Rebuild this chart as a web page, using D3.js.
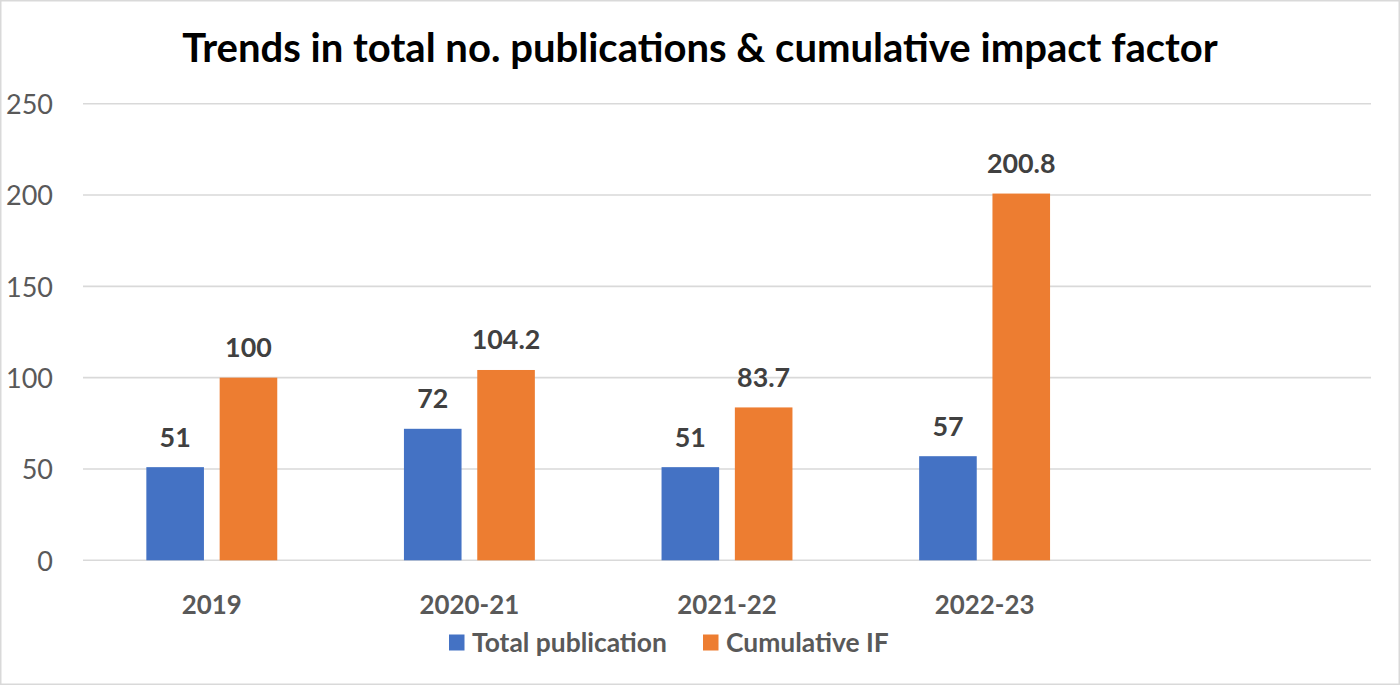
<!DOCTYPE html>
<html>
<head>
<meta charset="utf-8">
<script src="https://cdn.jsdelivr.net/npm/d3@7"></script>
<style>
  html, body { margin: 0; padding: 0; background: #fff; }
  svg { display: block; font-family: Lato, "Open Sans", sans-serif; }
</style>
</head>
<body>
<svg id="chart" width="1400" height="685"></svg>
<script>
// Publications per period and the cumulative impact factor
const categories = ["2019", "2020-21", "2021-22", "2022-23"];
const seriesNames = ["Total publication", "Cumulative IF"];
const totalPublication = [51, 72, 51, 57];
const cumulativeIF = [100, 104.2, 83.7, 200.8];
const yTicks = [0, 50, 100, 150, 200, 250];
const colors = ["#4472C4", "#ED7D31"];

const W = 1400, H = 685;
const plot = { left: 83, right: 1371, top: 103.7, bottom: 560.3 };

const svg = d3.select("#chart");

svg.append("rect")
  .attr("x", 0.75).attr("y", 0.75)
  .attr("width", W - 1.5).attr("height", H - 1.5)
  .attr("fill", "#fff").attr("stroke", "#d9d9d9").attr("stroke-width", 1.5);

// Category axis keeps one empty slot after the last period
const slots = [...categories, "\u00a0"];
const x = d3.scaleBand().domain(slots).range([plot.left, plot.right]).padding(0);
const band = x.bandwidth();
const barW = band * 0.2236;
const gap = band * 0.061;
const groupW = barW * 2 + gap;
const x1 = d3.scaleBand().domain(seriesNames)
  .range([(band - groupW) / 2, (band + groupW) / 2])
  .paddingInner(gap / (barW + gap)).paddingOuter(0);

const y = d3.scaleLinear().domain([0, 250]).range([plot.bottom, plot.top]);

// Gridlines
svg.append("g").selectAll("line").data(yTicks).join("line")
  .attr("x1", plot.left).attr("x2", plot.right)
  .attr("y1", d => y(d)).attr("y2", d => y(d))
  .attr("stroke", "#d9d9d9").attr("stroke-width", 1.6);

// Fit a text selection's font size so its first node spans the given width
function fit(sel, target) {
  const node = sel.node();
  const fs = parseFloat(sel.attr("font-size"));
  const w = node.getComputedTextLength();
  sel.attr("font-size", (fs * target / w).toFixed(2));
}

// Y axis labels
const yAxis = svg.append("g").attr("transform", "translate(53,0)")
  .call(d3.axisLeft(y).tickValues(yTicks).tickSize(0).tickPadding(0));
yAxis.select(".domain").remove();
const yLabels = yAxis.selectAll("text")
  .attr("font-family", "Lato, 'Open Sans', sans-serif")
  .attr("font-size", 28).attr("fill", "#595959").attr("dy", "0.36em");
fit(d3.select(yLabels.nodes()[yLabels.size() - 1]), 47);
yLabels.attr("font-size", d3.select(yLabels.nodes()[yLabels.size() - 1]).attr("font-size"));

// Bars
const rows = categories.map((c, i) => ({ cat: c, vals: [totalPublication[i], cumulativeIF[i]] }));
const groups = svg.append("g").selectAll("g").data(rows).join("g")
  .attr("transform", d => `translate(${x(d.cat)},0)`);
groups.selectAll("rect")
  .data(d => d.vals.map((v, j) => ({ key: seriesNames[j], v, j })))
  .join("rect")
  .attr("x", d => x1(d.key)).attr("width", x1.bandwidth())
  .attr("y", d => y(d.v)).attr("height", d => y(0) - y(d.v))
  .attr("fill", d => colors[d.j]);

// Value labels
const vlab = groups.selectAll("text")
  .data(d => d.vals.map((v, j) => ({ key: seriesNames[j], v, j })))
  .join("text")
  .attr("x", d => x1(d.key) + x1.bandwidth() / 2)
  .attr("y", d => y(d.v) - 20.5)
  .attr("text-anchor", "middle")
  .attr("font-weight", 700).attr("font-size", 28).attr("fill", "#404040")
  .text(d => String(d.v));
{
  const ref = vlab.filter(d => d.v === 100);
  fit(ref, 46.7);
  vlab.attr("font-size", ref.attr("font-size"));
}

// Category labels
const xl = svg.append("g").selectAll("text").data(categories).join("text")
  .attr("x", d => x(d) + band / 2).attr("y", 614)
  .attr("text-anchor", "middle")
  .attr("font-weight", 700).attr("font-size", 28).attr("fill", "#595959")
  .text(d => d);
{
  const ref = xl.filter(d => d === "2019");
  fit(ref, 60);
  xl.attr("font-size", ref.attr("font-size"));
}

// Title
const title = svg.append("text")
  .attr("x", 700).attr("y", 61.7).attr("text-anchor", "middle")
  .attr("font-weight", 700).attr("font-size", 38).attr("fill", "#000")
  .text("Trends in total no. publications & cumulative impact factor");
fit(title, 1036);

// Legend
const legend = svg.append("g");
const legX = [449, 703];
seriesNames.forEach((name, i) => {
  legend.append("rect")
    .attr("x", legX[i]).attr("y", 634.5).attr("width", 15.5).attr("height", 16)
    .attr("fill", colors[i]);
});
const lt = legend.selectAll("text").data(seriesNames).join("text")
  .attr("x", (d, i) => legX[i] + 23).attr("y", 651.5)
  .attr("font-weight", 700).attr("font-size", 28).attr("fill", "#595959")
  .text(d => d);
{
  const ref = lt.filter((d, i) => i === 0);
  fit(ref, 195);
  lt.attr("font-size", ref.attr("font-size"));
}
</script>
</body>
</html>
